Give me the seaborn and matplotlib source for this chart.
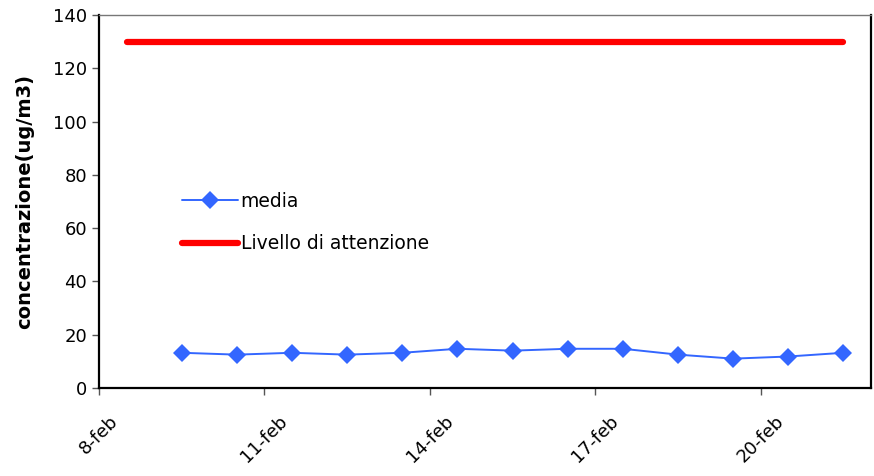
import pandas as pd
import matplotlib
matplotlib.use("Agg")
import matplotlib.pyplot as plt
import seaborn as sns

# days of february (values sit at midday, Excel style)
days_media = [9.5, 10.5, 11.5, 12.5, 13.5, 14.5, 15.5, 16.5, 17.5, 18.5, 19.5, 20.5, 21.5]
media = [13.2, 12.5, 13.2, 12.5, 13.2, 14.7, 14.0, 14.7, 14.7, 12.5, 11.0, 11.8, 13.2]

days_soglia = [8.5, 9.5, 10.5, 11.5, 12.5, 13.5, 14.5, 15.5, 16.5, 17.5, 18.5, 19.5, 20.5, 21.5]
soglia = [130] * len(days_soglia)

tick_days = [8, 11, 14, 17, 20]
tick_labels = ["8-feb", "11-feb", "14-feb", "17-feb", "20-feb"]
y_ticks = [0, 20, 40, 60, 80, 100, 120, 140]

df_media = pd.DataFrame({"giorno": days_media, "valore": media})
df_soglia = pd.DataFrame({"giorno": days_soglia, "valore": soglia})

sns.set_style("white")
plt.rcParams["font.family"] = ["DejaVu Sans"]
plt.rcParams["text.color"] = "black"
plt.rcParams["axes.labelcolor"] = "black"

fig = plt.figure(figsize=(8.74, 4.76), dpi=100)
ax = fig.add_axes([0.1133, 0.185, 0.8833, 0.7835])

sns.lineplot(data=df_media, x="giorno", y="valore", ax=ax, color="#3366FF",
             linewidth=1.4, marker="D", markersize=9, markeredgewidth=0,
             label="media")
sns.lineplot(data=df_soglia, x="giorno", y="valore", ax=ax, color="#FF0000",
             linewidth=4.5, solid_capstyle="round", label="Livello di attenzione")

ax.set_xlim(8, 22)
ax.set_ylim(0, 140)
ax.set_xticks(tick_days)
ax.set_xticklabels(tick_labels, rotation=45, ha="center", va="top", fontsize=13)
ax.set_yticks(y_ticks)
ax.set_yticklabels([str(v) for v in y_ticks], fontsize=13)
ax.tick_params(axis="both", direction="out", length=5, width=1, colors="#555555",
               labelcolor="black", bottom=True, left=True)
ax.tick_params(axis="x", pad=12)

ax.set_xlabel("")
ax.set_ylabel("concentrazione(ug/m3)", fontsize=14, fontweight="bold", labelpad=14,
              color="black")

for side in ["left", "bottom", "right"]:
    ax.spines[side].set_color("black")
    ax.spines[side].set_linewidth(1.6)
ax.spines["top"].set_color("#777777")
ax.spines["top"].set_linewidth(1.0)

leg = ax.legend(loc="center left", bbox_to_anchor=(0.085, 0.443), frameon=False,
                fontsize=13.5, handlelength=3.0, handletextpad=0.15, labelspacing=1.25)
for txt in leg.get_texts():
    txt.set_color("black")

fig.savefig("out.png", dpi=100)
